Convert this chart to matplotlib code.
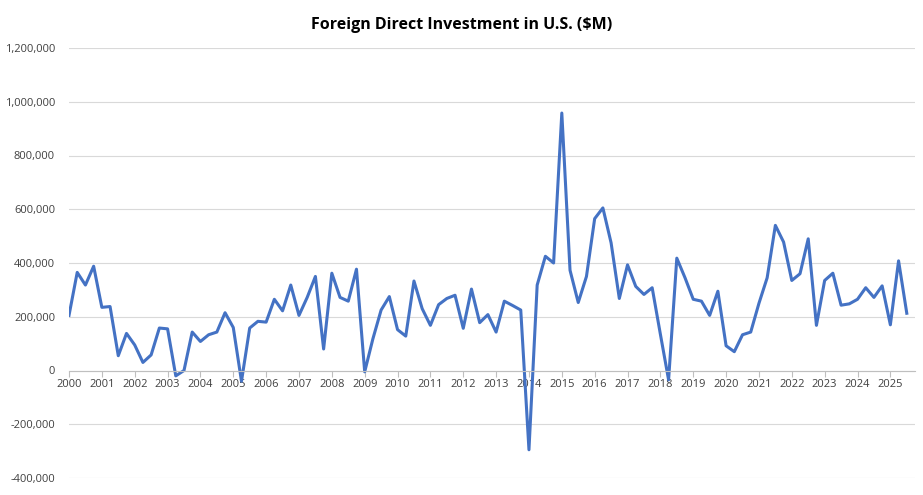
import numpy as np
import matplotlib.pyplot as plt
from matplotlib.ticker import FuncFormatter

plt.rcParams["font.family"] = ["Open Sans", "DejaVu Sans"]

years = list(range(2000, 2026))
fdi = [205e3, 365e3, 318e3, 388e3,
       235e3, 238e3, 55e3, 138e3,
       95e3, 30e3, 58e3, 158e3,
       155e3, -20e3, 0, 143e3,
       108e3, 133e3, 143e3, 215e3,
       160e3, -40e3, 158e3, 183e3,
       180e3, 265e3, 222e3, 318e3,
       205e3, 272e3, 350e3, 80e3,
       362e3, 272e3, 258e3, 377e3,
       -5e3, 118e3, 225e3, 275e3,
       152e3, 128e3, 333e3, 230e3,
       168e3, 245e3, 268e3, 280e3,
       157e3, 303e3, 178e3, 208e3,
       143e3, 258e3, 242e3, 225e3,
       -295e3, 318e3, 425e3, 400e3,
       958e3, 373e3, 253e3, 350e3,
       565e3, 605e3, 475e3, 268e3,
       393e3, 313e3, 283e3, 308e3,
       135e3, -35e3, 418e3, 345e3,
       265e3, 258e3, 205e3, 295e3,
       92e3, 70e3, 133e3, 143e3,
       250e3, 345e3, 540e3, 478e3,
       335e3, 360e3, 490e3, 168e3,
       335e3, 362e3, 243e3, 248e3,
       265e3, 308e3, 272e3, 315e3,
       170e3, 408e3, 213e3]

x = np.arange(len(fdi))

fig = plt.figure(figsize=(9.23, 4.95), dpi=100)
ax = fig.add_axes([69/923, 1 - 478/495, (915-69)/923, (478-48)/495])
ax.plot(x, fdi, color='#4472C4', lw=2.2)
ax.set_xlim(0, 103)
ax.set_ylim(-400e3, 1200e3)
ax.set_yticks(np.arange(-400e3, 1200e3 + 1, 200e3))
ax.yaxis.set_major_formatter(FuncFormatter(lambda v, p: f"{v:,.0f}"))
ax.grid(axis='y', color='#d9d9d9', lw=0.8)
ax.set_axisbelow(True)
for s in ['top', 'right', 'left']:
    ax.spines[s].set_visible(False)
ax.spines['bottom'].set_position(('data', 0))
ax.spines['bottom'].set_color('#bfbfbf')
ax.set_xticks(np.arange(0, 104, 4))
ax.set_xticklabels([str(y) for y in years])
ax.tick_params(axis='x', length=4, color='#bfbfbf', labelsize=8, labelcolor='#404040', pad=2)
ax.tick_params(axis='y', length=0, labelsize=8, labelcolor='#404040', pad=10)
fig.suptitle("Foreign Direct Investment in U.S. ($M)", y=0.965, fontsize=11.5, fontweight='bold')
fig.savefig('out.png')
